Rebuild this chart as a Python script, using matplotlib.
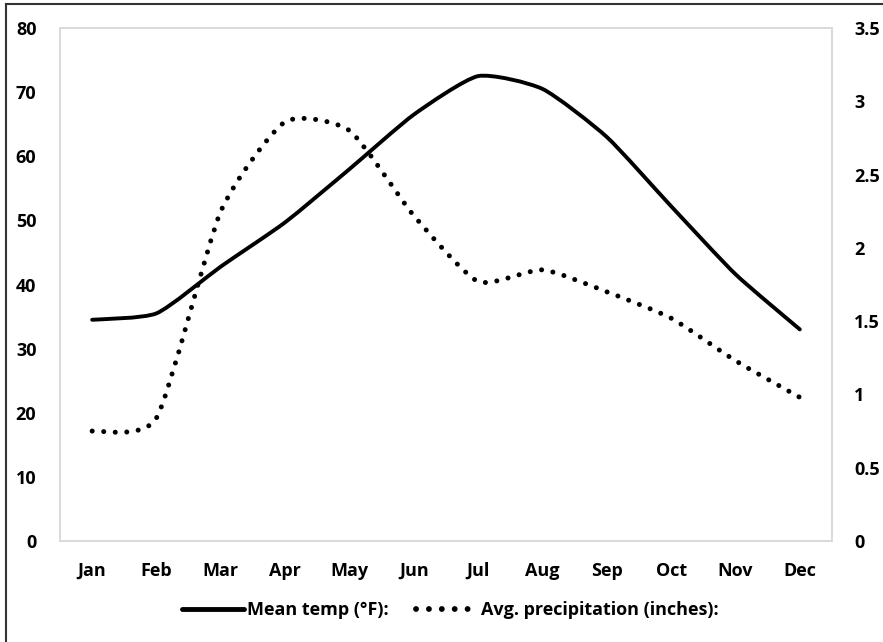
import matplotlib
matplotlib.use("Agg")
import matplotlib.pyplot as plt
from matplotlib.path import Path
from matplotlib.patches import PathPatch
from matplotlib.lines import Line2D
import numpy as np

months = ["Jan", "Feb", "Mar", "Apr", "May", "Jun", "Jul", "Aug", "Sep", "Oct", "Nov", "Dec"]
mean_temp = [34.5, 35.5, 42.8, 49.7, 58.0, 66.5, 72.5, 70.5, 63.0, 52.2, 41.6, 33.0]
avg_precip = [0.75, 0.84, 2.25, 2.86, 2.80, 2.22, 1.77, 1.85, 1.70, 1.52, 1.23, 0.98]
temp_label = "Mean temp (°F):"
precip_label = "Avg. precipitation (inches):"

plt.rcParams['font.family'] = ['Open Sans', 'DejaVu Sans']
plt.rcParams['font.weight'] = 'bold'

def smooth_path(xs, ys, k=10.0):
    pts = np.column_stack([xs, ys]).astype(float)
    n = len(pts)
    verts = [pts[0]]
    codes = [Path.MOVETO]
    for i in range(n - 1):
        p0 = pts[i - 1] if i > 0 else pts[i]
        p1 = pts[i]
        p2 = pts[i + 1]
        p3 = pts[i + 2] if i + 2 < n else pts[i + 1]
        c1 = p1 + (p2 - p0) / k
        c2 = p2 - (p3 - p1) / k
        verts += [c1, c2, p2]
        codes += [Path.CURVE4] * 3
    return Path(verts, codes)

fig = plt.figure(figsize=(8.83, 6.42), dpi=100)
ax = fig.add_axes([60/883, 1 - 541/642, (832 - 60)/883, (541 - 28)/642])
ax2 = ax.twinx()

x = np.arange(len(months))
ax.add_patch(PathPatch(smooth_path(x, mean_temp), fill=False, edgecolor='black',
                       linewidth=2.8, capstyle='round', joinstyle='round'))
ax2.add_patch(PathPatch(smooth_path(x, avg_precip), fill=False, edgecolor='black',
                        linewidth=3.6, linestyle=(0, (0.01, 2.3)), capstyle='round'))

ax.set_xlim(-0.5, 11.5)
ax.set_ylim(0, 80)
ax2.set_ylim(0, 3.5)
ax.set_yticks(np.arange(0, 81, 10))
ax2.set_yticks(np.arange(0, 3.51, 0.5))
ax2.set_yticklabels(["0", "0.5", "1", "1.5", "2", "2.5", "3", "3.5"])
ax.set_xticks(x)
ax.set_xticklabels(months)

for a in (ax, ax2):
    for s in a.spines.values():
        s.set_color('#d9d9d9')
        s.set_linewidth(1.2)
    a.tick_params(length=0, labelsize=13)
    for lbl in a.get_xticklabels() + a.get_yticklabels():
        lbl.set_fontweight('bold')
ax.tick_params(axis='y', pad=17)
ax.tick_params(axis='x', pad=15)
ax2.tick_params(axis='y', pad=16)

handles = [Line2D([], [], color='black', linewidth=3.5, solid_capstyle='round'),
           Line2D([], [], color='black', linewidth=4.2, linestyle=(0, (0.01, 2.2)),
                  dash_capstyle='round')]
fig.legend(handles, [temp_label, precip_label], loc='center', bbox_to_anchor=(0.51, 1 - 610/642),
           ncol=2, frameon=False, handlelength=3.4, handletextpad=0.2,
           columnspacing=1.5, prop={'size': 13, 'weight': 'bold'})

# outer border (left and top)
fig.add_artist(Line2D([6/883, 6/883], [0, 1 - 4/642], color='#333333', linewidth=1.5,
                      transform=fig.transFigure))
fig.add_artist(Line2D([6/883, 1], [1 - 4/642, 1 - 4/642], color='#333333', linewidth=1.5,
                      transform=fig.transFigure))

fig.savefig("out.png", dpi=100)
